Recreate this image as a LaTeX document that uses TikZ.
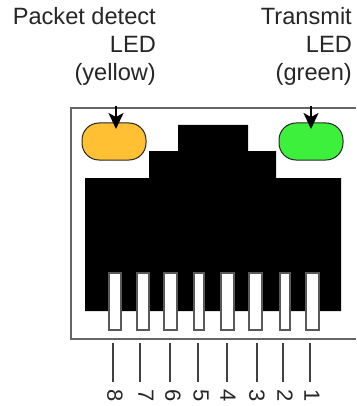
\documentclass[tikz,border=0pt]{standalone}
\usepackage{fontspec}
\setmainfont{Liberation Sans}
\usetikzlibrary{arrows.meta}
\tikzset{
         frameline/.style={draw=black!60,line width=1.8pt},
         ledbody/.style={draw=black!85,line width=1pt,rounded corners=17pt,minimum width=64pt,minimum height=37pt,inner sep=0pt},
         ledarrow/.style={-{Stealth[length=16pt,width=15pt,inset=4pt]},line width=1.6pt,black},
         pinbox/.style={draw=black!65,fill=white,line width=1.2pt,inner sep=0pt,minimum height=57pt},
         tickline/.style={draw=black!75,line width=1.2pt},
         pinlabel/.style={rotate=-90,inner sep=0pt,text=black!85,font=\fontsize{22}{22}\selectfont},
         toplabel/.style={anchor=north east,align=right,inner sep=0pt,text=black!85,font=\fontsize{23.6}{28}\selectfont}
        }
\begin{document}
\begin{tikzpicture}[x=1pt,y=-1pt]
\useasboundingbox (0,0) rectangle (356,406);
\node[toplabel] (packetlabel) at (156,7) {Packet detect\\LED\\(yellow)}; % yellow label
\node[toplabel] (transmitlabel) at (352,7) {Transmit\\LED\\(green)}; % green label
\coordinate (frameNE) at (356,108);
\coordinate (frameNW) at (71,108);
\coordinate (frameSW) at (71,339);
\coordinate (frameSE) at (356,339);
\draw[frameline] (frameNE) -- (frameNW) -- (frameSW) -- (frameSE); % Frame
\fill[black] (178,125) -- (248,125) -- (248,151) -- (276,151) -- (276,178) -- (341,178)
  -- (341,311) -- (85,311) -- (85,178) -- (149,178) -- (149,151) -- (178,151) -- cycle; % Jack
\node[ledbody,fill={rgb,255:red,255;green,193;blue,51}] (yellowled) at (114,141.5) {}; % yellow LED
\node[ledbody,fill={rgb,255:red,60;green,240;blue,60}] (greenled) at (311,141.5) {}; % green LED
\coordinate (yellowtail) at (116,106);
\coordinate (yellowtip) at (116,129);
\coordinate (greentail) at (311,106);
\coordinate (greentip) at (311,129);
\draw[ledarrow] (yellowtail) -- (yellowtip); % yellow arrow
\draw[ledarrow] (greentail) -- (greentip); % green arrow
\node[pinbox,minimum width=12pt] (pin8) at (115,301.5) {}; % pin 8
\node[pinbox,minimum width=12pt] (pin7) at (143,301.5) {}; % pin 7
\node[pinbox,minimum width=13pt] (pin6) at (170.5,301.5) {}; % pin 6
\node[pinbox,minimum width=10pt] (pin5) at (199,301.5) {}; % pin 5
\node[pinbox,minimum width=13pt] (pin4) at (227.5,301.5) {}; % pin 4
\node[pinbox,minimum width=13pt] (pin3) at (255.5,301.5) {}; % pin 3
\node[pinbox,minimum width=10pt] (pin2) at (285,301.5) {}; % pin 2
\node[pinbox,minimum width=13pt] (pin1) at (312.5,301.5) {}; % pin 1
\coordinate (top8) at (113,343); \coordinate (end8) at (113,382);
\coordinate (top7) at (140,343); \coordinate (end7) at (140,382);
\coordinate (top6) at (170,343); \coordinate (end6) at (170,382);
\coordinate (top5) at (198,343); \coordinate (end5) at (198,382);
\coordinate (top4) at (227,343); \coordinate (end4) at (227,382);
\coordinate (top3) at (257,343); \coordinate (end3) at (257,382);
\coordinate (top2) at (283,343); \coordinate (end2) at (283,382);
\coordinate (top1) at (310,343); \coordinate (end1) at (310,382);
\draw[tickline] (top8) -- (end8) (top7) -- (end7) (top6) -- (end6) (top5) -- (end5); % Ticks
\draw[tickline] (top4) -- (end4) (top3) -- (end3) (top2) -- (end2) (top1) -- (end1); % Ticks
\node[pinlabel] (label8) at (115,396) {8};
\node[pinlabel] (label7) at (146,396) {7};
\node[pinlabel] (label6) at (173,396) {6};
\node[pinlabel] (label5) at (201,396) {5};
\node[pinlabel] (label4) at (228,396) {4};
\node[pinlabel] (label3) at (257,396) {3};
\node[pinlabel] (label2) at (285,396) {2};
\node[pinlabel] (label1) at (312,396) {1};
\end{tikzpicture}
\end{document}
